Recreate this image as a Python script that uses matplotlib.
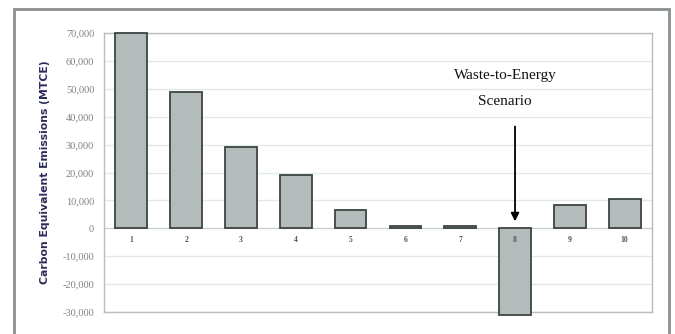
import matplotlib
matplotlib.use('Agg')
import matplotlib.pyplot as plt
import matplotlib.patches as patches
import matplotlib.transforms as mtrans

# data
scenarios = ['1', '2', '3', '4', '5', '6', '7', '8', '9', '10']
emissions = [70000, 49000, 29000, 19000, 6500, 700, 700, -31000, 8500, 10500]
yticks = [-30000, -20000, -10000, 0, 10000, 20000, 30000, 40000, 50000, 60000, 70000]

fig = plt.figure(figsize=(6.75, 3.34), dpi=100)
ax = fig.add_axes([0.154, 0.066, 0.812, 0.835])

x = list(range(len(scenarios)))
ax.bar(x, emissions, width=0.58, color='#b3bbbb', edgecolor='#3c4444',
       linewidth=1.3, zorder=3, clip_on=False)

ax.set_xlim(-0.5, len(scenarios) - 0.5)
ax.set_ylim(-30000, 70000)
ax.set_yticks(yticks)
ax.set_yticklabels(['{:,}'.format(v) for v in yticks], fontfamily='Liberation Serif',
                   fontsize=7.5, color='#808080')
ax.tick_params(axis='y', length=0, pad=7)
ax.set_xticks([])
ax.grid(axis='y', color='#e4e8e8', linewidth=1, zorder=0)
ax.axhline(0, color='#c8cccc', linewidth=0.8, zorder=2)

# category labels sit under the zero line
trans = mtrans.blended_transform_factory(ax.transData, ax.transData)
for xi, lab in zip(x, scenarios):
    ax.text(xi, -4300, lab, ha='center', va='center', fontsize=5.5,
            fontfamily='Liberation Serif', fontweight='bold', color='#555555',
            transform=trans, zorder=4)

for s in ax.spines.values():
    s.set_color('#b8bcbc')
    s.set_linewidth(1)

ax.set_ylabel('Carbon Equivalent Emissions (MTCE)', fontsize=7.8, fontweight='bold',
              color='#2c2c5c', labelpad=9)

# annotation for scenario 8
ax.annotate('', xy=(7, 1500), xytext=(7, 37500),
            arrowprops=dict(arrowstyle='-|>', color='black', lw=1.3, mutation_scale=12))
ax.text(6.82, 50000, 'Waste-to-Energy\nScenario', ha='center', va='center',
        fontfamily='Liberation Serif', fontsize=11, color='#111111', linespacing=2.3)

# outer frame around the chart
frame = patches.Rectangle((14 / 675, -0.05), 655 / 675, 1 - 9 / 334 + 0.05,
                          transform=fig.transFigure, fill=False,
                          edgecolor='#8c9090', linewidth=2)
fig.patches.append(frame)

fig.savefig('out.png', dpi=100)
